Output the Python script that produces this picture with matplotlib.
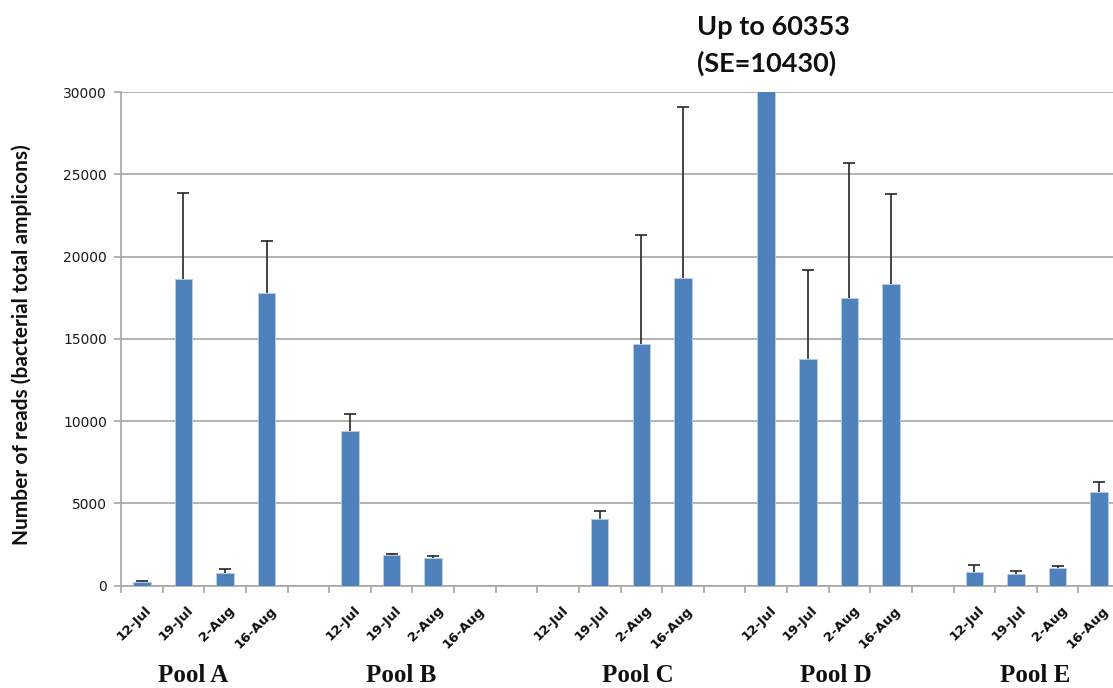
import matplotlib
matplotlib.use("Agg")
import matplotlib.pyplot as plt
import numpy as np

dates = ['12-Jul', '19-Jul', '2-Aug', '16-Aug']
pools = ['Pool A', 'Pool B', 'Pool C', 'Pool D', 'Pool E']

pool_a = [200, 18650, 750, 17780]
pool_a_se = [60, 5230, 250, 3150]
pool_b = [9400, 1850, 1700, 0]
pool_b_se = [1030, 60, 130, 0]
pool_c = [0, 4070, 14670, 18710]
pool_c_se = [0, 470, 6650, 10390]
pool_d = [60353, 13770, 17500, 18310]
pool_d_se = [10430, 5390, 8180, 5470]
pool_e = [810, 730, 1060, 5670]
pool_e_se = [440, 145, 120, 610]

values = [pool_a, pool_b, pool_c, pool_d, pool_e]
errors = [pool_a_se, pool_b_se, pool_c_se, pool_d_se, pool_e_se]

y_ticks = [0, 5000, 10000, 15000, 20000, 25000, 30000]
annotation = ['Up to 60353', '(SE=10430)']
y_label = 'Number of reads (bacterial total amplicons)'

W, H = 1113, 688
fig = plt.figure(figsize=(W / 100, H / 100), dpi=100)
left_px, right_px, top_px, bottom_px = 121, 1120, 92, 585.7
ax = fig.add_axes([left_px / W, 1 - bottom_px / H,
                   (right_px - left_px) / W, (bottom_px - top_px) / H])

bar_color = '#4F81BD'
grid_color = '#A6A6A6'

xs, ys, es, labels = [], [], [], []
for i, (vals, errs) in enumerate(zip(values, errors)):
    for j, (v, e) in enumerate(zip(vals, errs)):
        xs.append(i * 5 + j)
        ys.append(v)
        es.append(e)
        labels.append(dates[j])
xs = np.array(xs)
ys = np.array(ys, dtype=float)
es = np.array(es, dtype=float)

ax.bar(xs, ys, width=0.42, color=bar_color, edgecolor='#B9CDE5',
       linewidth=0.6, zorder=3)
m = es > 0
eb = ax.errorbar(xs[m], ys[m], yerr=[np.zeros(m.sum()), es[m]], fmt='none',
                 ecolor='#262626', elinewidth=1.2, capsize=4.5, capthick=1.2,
                 zorder=4)
# hide the lower caps (plus-direction error bars only)
eb[1][0].set_visible(False)

ax.set_xlim(-0.5, 23.5)
ax.set_ylim(0, 30000)
ax.set_yticks(y_ticks)
ax.set_yticklabels([str(t) for t in y_ticks], fontsize=10,
                   family='DejaVu Sans', color='#1a1a1a')
ax.yaxis.grid(True, color=grid_color, linewidth=1.2, zorder=0)
ax.set_axisbelow(True)

ax.set_xticks(xs + 0.08)
ax.set_xticklabels(labels, rotation=45, ha='right', va='top',
                   rotation_mode='anchor', fontsize=9.5, fontweight='bold',
                   family='DejaVu Sans', color='#0d0d0d')
ax.set_xticks(np.arange(-0.5, 24, 1), minor=True)
ax.tick_params(axis='x', which='major', length=0, pad=13)
ax.tick_params(axis='x', which='minor', length=5, color=grid_color, width=1.2)
ax.tick_params(axis='y', length=5, color=grid_color, width=1.2, pad=5)

for s in ['top', 'right']:
    ax.spines[s].set_visible(False)
for s in ['left', 'bottom']:
    ax.spines[s].set_color(grid_color)
    ax.spines[s].set_linewidth(1.2)

fig.text(22 / W, 1 - 345 / H, y_label, rotation=90, ha='center', va='center',
         fontsize=15, fontweight='bold', family='Lato', color='#111111')

pool_px = [193, 401, 638, 836, 1035]
for name, px in zip(pools, pool_px):
    fig.text(px / W, 1 - 676 / H, name, ha='center', va='center',
             fontsize=18, fontweight='bold', family='Liberation Serif',
             color='#111111')

fig.text(697 / W, 1 - 27 / H, annotation[0], ha='left', va='center',
         fontsize=19.5, fontweight='bold', family='Lato', color='#111111')
fig.text(697 / W, 1 - 63 / H, annotation[1], ha='left', va='center',
         fontsize=19.5, fontweight='bold', family='Lato', color='#111111')

fig.savefig('out.png', dpi=100)
